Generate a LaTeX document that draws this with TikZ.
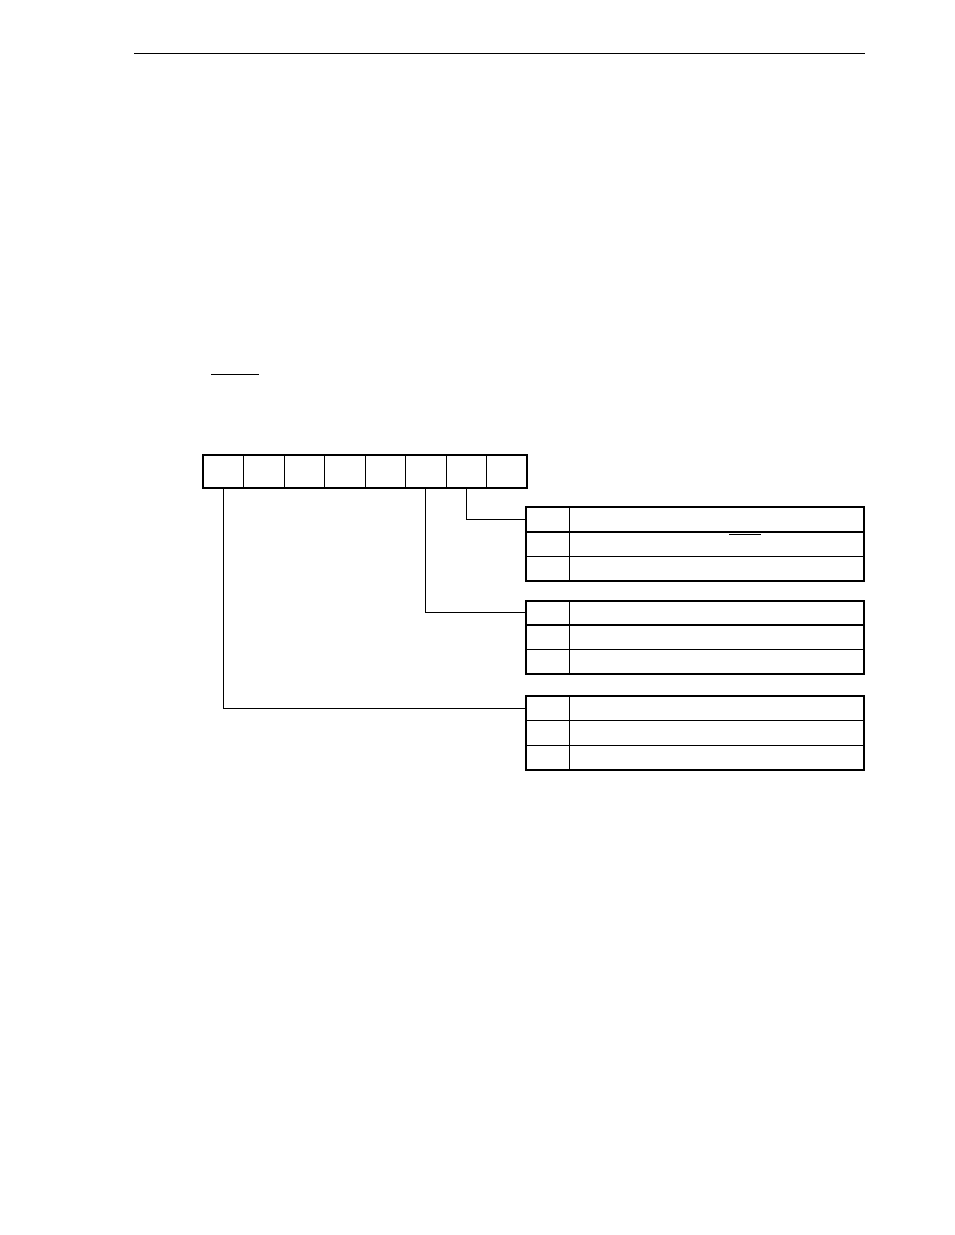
\documentclass[tikz,border=0pt]{standalone}
\begin{document}
\begin{tikzpicture}[x=1pt,y=-1pt,
  thin line/.style={line width=1pt},
  thick line/.style={line width=2pt},
  bitcell/.style={draw,line width=1pt,minimum width=40.5pt,minimum height=33pt,inner sep=0pt,outer sep=0pt},
  lcell/.style={draw,line width=1pt,minimum width=43.3pt,minimum height=24.5pt,inner sep=0pt,outer sep=0pt,anchor=north west},
  rcell/.style={draw,line width=1pt,minimum width=295pt,minimum height=24.5pt,inner sep=0pt,outer sep=0pt,anchor=north west},
  conn/.style={line width=1pt}]
\useasboundingbox (0,0) rectangle (954,1235);
% header rule
\coordinate (hl) at (134,53);
\coordinate (hr) at (865,53);
\draw[thin line] (hl) -- (hr);
% short rule
\coordinate (sl) at (211,374);
\coordinate (sr) at (259,374);
\draw[thin line] (sl) -- (sr);
% register cells
\foreach \i [count=\k from 0] in {7,6,5,4,3,2,1,0}{
  \node[bitcell] (b\i) at (223.25+40.5*\k,471.5) {};
}
\draw[thick line] (b7.north west) rectangle (b0.south east);
% tables
\foreach \t/\y in {1/507,2/600.5,3/696}{
  \foreach \r in {1,2,3}{
    \node[lcell] (t\t l\r) at (526,\y+24.5*\r-24.5) {};
    \node[rcell] (t\t r\r) at (t\t l\r.north east) {};
  }
  \draw[thick line] (t\t l1.north west) rectangle (t\t r3.south east);
}
\draw[thick line] (t1l1.south west) -- (t1r1.south east);
\draw[thick line] (t2l1.south west) -- (t2r1.south east);
% overline in table 1
\coordinate (ol) at (729,534.7);
\coordinate (or) at (761,534.7);
\draw[thin line] (ol) -- (or);
% connectors
\draw[conn] (b1.south) |- (t1l1.west);
\draw[conn] (b2.south) |- (t2l1.west);
\draw[conn] (b7.south) |- (t3l1.west);
\end{tikzpicture}
\end{document}
